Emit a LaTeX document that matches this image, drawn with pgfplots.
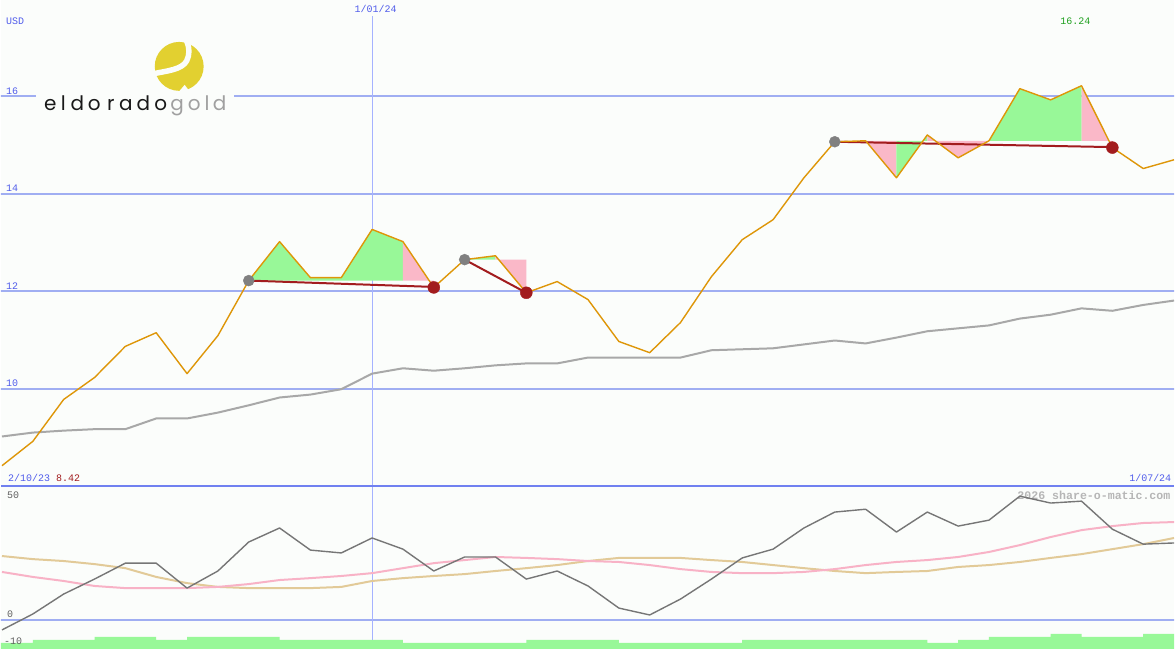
\documentclass[border=0pt]{standalone}
\usepackage{pgfplots}
\pgfplotsset{compat=1.18}
\usepackage{pgfplotstable}
\usepackage{fontspec}
\setmainfont{Liberation Mono}
\newfontfamily\logofont{Poppins}

\definecolor{bg}{RGB}{251,253,251}
\definecolor{gridblue}{RGB}{160,174,242}
\definecolor{sepblue}{RGB}{112,128,240}
\definecolor{vblue}{RGB}{165,178,255}
\definecolor{tblue}{RGB}{80,92,235}
\definecolor{porange}{RGB}{222,150,8}
\definecolor{magray}{RGB}{168,168,168}
\definecolor{dred}{RGB}{162,28,30}
\definecolor{dotgray}{RGB}{128,128,128}
\definecolor{fgreen}{RGB}{152,248,152}
\definecolor{fpink}{RGB}{250,184,200}
\definecolor{momgray}{RGB}{118,118,118}
\definecolor{lpink}{RGB}{248,178,198}
\definecolor{ltan}{RGB}{226,202,152}
\definecolor{tgreen}{RGB}{30,160,30}
\definecolor{wmgray}{RGB}{182,182,182}
\definecolor{lgray}{RGB}{96,96,96}
\definecolor{logoyellow}{RGB}{226,208,48}
\definecolor{logogray}{RGB}{160,160,160}

\pgfplotstableread{
i p ma
0 8.42 9.02
1 8.92 9.10
2 9.78 9.14
3 10.23 9.17
4 10.87 9.17
5 11.15 9.39
6 10.31 9.39
7 11.09 9.51
8 12.22 9.66
9 13.02 9.82
10 12.28 9.88
11 12.28 9.99
12 13.27 10.31
13 13.02 10.42
14 12.08 10.37
15 12.65 10.42
16 12.73 10.48
17 11.97 10.52
18 12.20 10.52
19 11.83 10.64
20 10.97 10.64
21 10.74 10.64
22 11.36 10.64
23 12.30 10.79
24 13.06 10.81
25 13.47 10.83
26 14.33 10.91
27 15.07 10.99
28 15.09 10.93
29 14.33 11.05
30 15.21 11.18
31 14.74 11.24
32 15.09 11.30
33 16.16 11.44
34 15.93 11.52
35 16.22 11.65
36 14.95 11.60
37 14.52 11.72
38 14.70 11.81
}\price

\pgfplotstableread{
i mom pk tan
0 -4.2 20.2 26.9
1 2.5 18.1 25.6
2 10.9 16.4 24.8
3 17.2 14.3 23.5
4 23.9 13.4 21.8
5 23.9 13.4 18.1
6 13.4 13.4 15.5
7 20.6 13.9 13.9
8 32.8 15.1 13.4
9 38.7 16.8 13.4
10 29.4 17.6 13.4
11 28.2 18.5 13.9
12 34.5 19.7 16.4
13 29.8 21.8 17.6
14 20.6 23.9 18.5
15 26.5 25.2 19.3
16 26.5 26.5 20.6
17 17.2 26.1 21.8
18 20.6 25.6 23.1
19 14.3 24.8 24.8
20 5.0 24.4 26.1
21 2.1 23.1 26.1
22 8.8 21.4 26.1
23 17.2 20.2 25.2
24 26.1 19.7 24.4
25 29.8 19.7 23.1
26 38.7 20.2 21.8
27 45.4 21.4 20.6
28 46.6 23.1 19.7
29 37.0 24.4 20.2
30 45.4 25.2 20.6
31 39.5 26.5 22.3
32 42.0 28.6 23.1
33 52.1 31.5 24.4
34 49.2 34.9 26.1
35 50.0 37.8 27.7
36 38.2 39.5 29.8
37 31.9 40.8 31.9
38 32.4 41.2 34.5
}\osc

\pgfplotsset{chartaxis/.style={scale only axis, width=1175pt, xmin=-0.032, xmax=38,
  axis line style={draw=none}, xtick=\empty, ytick=\empty, clip=true, no marks, line join=round}}

\begin{document}
\begin{tikzpicture}[font=\fontsize{10}{12}\selectfont]
\fill[bg] (0pt,0pt) rectangle (1175pt,650pt);

% watermark (beneath the lines)
\begin{scope}[x=1pt,y=-1pt,shift={(0pt,650pt)}]
\node[anchor=base west, inner sep=0pt, text=wmgray, font=\fontsize{11.6}{12}\selectfont\bfseries] at (1018,500) {2026 share-o-matic.com};
\end{scope}

% ---------------- upper panel ----------------
\begin{axis}[chartaxis, at={(0pt,163pt)}, anchor=south west,
  height=487pt, ymin=8, ymax=17.98]
  \draw[gridblue, line width=2pt] (axis cs:-1,10) -- (axis cs:39,10);
  \draw[gridblue, line width=2pt] (axis cs:-1,12) -- (axis cs:39,12);
  \draw[gridblue, line width=2pt] (axis cs:-1,14) -- (axis cs:39,14);
  \draw[gridblue, line width=2pt] (axis cs:-1,16) -- (axis cs:39,16);
  \draw[vblue, line width=1pt] (axis cs:12,8) -- (axis cs:12,17.65);

  % areas between the price and the level of each swing
  \addplot[fill=fgreen, draw=none] coordinates {(8,12.22) (9,13.02) (10,12.28) (11,12.28) (12,13.27) (13,13.02) (13,12.22)};
  \addplot[fill=fpink, draw=none] coordinates {(13,12.22) (13,13.02) (14,12.08) (14,12.22)};
  \addplot[fill=fgreen, draw=none] coordinates {(15,12.65) (16,12.73) (16,12.65)};
  \addplot[fill=fpink, draw=none] coordinates {(16,12.65) (16,12.73) (17,11.97) (17,12.65)};
  \addplot[fill=fpink, draw=none] coordinates {(28,15.09) (29,14.33) (29,15.09)};
  \addplot[fill=fgreen, draw=none] coordinates {(29,15.09) (29,14.33) (30,15.21) (30,15.09)};
  \addplot[fill=fpink, draw=none] coordinates {(30,15.09) (30,15.21) (31,14.74) (32,15.09)};
  \addplot[fill=fgreen, draw=none] coordinates {(32,15.09) (33,16.16) (34,15.93) (35,16.22) (35,15.09)};
  \addplot[fill=fpink, draw=none] coordinates {(35,15.09) (35,16.22) (36,14.95) (36,15.09)};

  \addplot[magray, line width=2pt] table[x=i,y=ma]{\price};
  \addplot[dred, line width=2pt] coordinates {(8,12.22) (14,12.09)};
  \addplot[dred, line width=2pt] coordinates {(15,12.65) (17,11.97)};
  \addplot[dred, line width=2pt] coordinates {(27,15.07) (36,14.96)};
  \addplot[only marks, mark=*, mark size=5.5pt, mark options={draw=dotgray, fill=dotgray}] coordinates {(8,12.22) (15,12.65) (27,15.07)};
  \addplot[only marks, mark=*, mark size=6pt, mark options={draw=dred, fill=dred}] coordinates {(14,12.08) (17,11.97) (36,14.95)};
  \addplot[porange, line width=1.4pt] table[x=i,y=p]{\price};
\end{axis}

% ---------------- lower panel ----------------
\begin{axis}[chartaxis, at={(0pt,0pt)}, anchor=south west,
  height=163pt, ymin=-12.18, ymax=56.3]
  \draw[gridblue, line width=2pt] (axis cs:-1,0) -- (axis cs:39,0);
  \draw[vblue, line width=1pt] (axis cs:12,-12.18) -- (axis cs:12,56.3);
  \addplot[fill=fgreen, draw=none, const plot] coordinates {(-0.5,-13) (-0.5,-9.66) (1,-8.40) (3,-7.14) (5,-8.40) (6,-7.14) (9,-8.40) (13,-9.66) (17,-8.40) (20,-9.66) (24,-8.40) (30,-9.66) (31,-8.40) (32,-7.14) (34,-5.88) (35,-7.14) (37,-5.88) (38.5,-5.88) (38.5,-13)};
  \addplot[ltan, line width=2pt] table[x=i,y=tan]{\osc};
  \addplot[lpink, line width=2pt] table[x=i,y=pk]{\osc};
  \addplot[momgray, line width=1.4pt] table[x=i,y=mom]{\osc};
\end{axis}

\begin{scope}[x=1pt,y=-1pt,shift={(0pt,650pt)}]
% separator
\draw[sepblue, line width=2pt] (0,487) -- (1175,487);
% logo
\fill[bg] (35,36) rectangle (233,118);
\fill[logoyellow] (178.5,66.5) circle (24.5pt);
\draw[bg, line width=5.5pt] (152,74) .. controls (166,71) and (181,70) .. (186,61) .. controls (189,55) and (189,48) .. (186,41);
\fill[bg] (178,92) -- (184,85) -- (190,93) -- cycle;
\foreach \ch/\cx in {e/49.5, l/62.5, d/76.5, o/93.5, r/110, a/125, d/142.5, o/160}{
  \node[anchor=base, inner sep=0pt, text=black!90, font=\fontsize{20}{20}\logofont] at (\cx,110.5) {\ch};
}
\foreach \ch/\cx in {g/176.5, o/193.5, l/206.5, d/219}{
  \node[anchor=base, inner sep=0pt, text=logogray, font=\fontsize{20}{20}\logofont] at (\cx,110.5) {\ch};
}
% labels
\node[anchor=base west, inner sep=0pt, text=tblue] at (5,25) {USD};
\node[anchor=base west, inner sep=0pt, text=tblue] at (5,94.5) {16};
\node[anchor=base west, inner sep=0pt, text=tblue] at (5,192) {14};
\node[anchor=base west, inner sep=0pt, text=tblue] at (5,289.5) {12};
\node[anchor=base west, inner sep=0pt, text=tblue] at (5,387.5) {10};
\node[anchor=base west, inner sep=0pt, text=tblue] at (354,12.5) {1/01/24};
\node[anchor=base west, inner sep=0pt, text=tgreen] at (1061,25) {16.24};
\node[anchor=base west, inner sep=0pt, text=tblue] at (7,482.5) {2/10/23};
\node[anchor=base west, inner sep=0pt, text=dred] at (55,482.5) {8.42};
\node[anchor=base west, inner sep=0pt, text=tblue] at (1130,482.5) {1/07/24};
\node[anchor=base west, inner sep=0pt, text=lgray] at (6,499.5) {50};
\node[anchor=base west, inner sep=0pt, text=lgray] at (6,618.3) {0};
\node[anchor=base west, inner sep=0pt, text=lgray] at (3,646) {-10};
\end{scope}
\useasboundingbox (0pt,0pt) rectangle (1175pt,650pt);
\end{tikzpicture}
\end{document}
